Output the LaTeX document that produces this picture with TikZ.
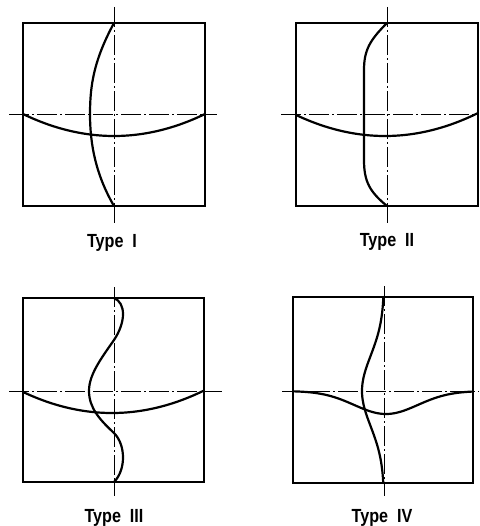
\documentclass[tikz,border=0pt]{standalone}
\usepackage{fontspec}
\setmainfont{Liberation Sans}
\usepackage{tikz}
\newcommand{\typename}[1]{\scalebox{0.85}[1]{Type\ \ #1}}

\begin{document}
\begin{tikzpicture}[x=1pt,y=-1pt,
  frame/.style={line width=1.8pt},
  axis/.style={line width=0.8pt, dash pattern=on 20pt off 3pt on 2pt off 3pt},
  mode/.style={line width=2.2pt, line cap=round},
  lbl/.style={anchor=base, font=\fontsize{19}{19}\selectfont\bfseries}]
\useasboundingbox (0,0) rectangle (479,526);
% Type I
\draw[frame] (23,23) rectangle (205,206);
\draw[axis] (9,114) -- (217,114);
\draw[axis] (114,7) -- (114,223);
\draw[mode] (114,23) .. controls (94,60) and (90,85) .. (90,114) .. controls (90,145) and (96,175) .. (114,206);
\draw[mode] plot[domain=23:205,samples=60] (\x,{114+22*(1-((\x-114)/91)*((\x-114)/91))});
\node[lbl] (typeI) at (112,247) {\typename{I}};
% Type II
\draw[frame] (296,23) rectangle (478,206);
\draw[axis] (281,114) -- (479,114);
\draw[axis] (387,7) -- (387,223);
\draw[mode] (387,23) .. controls (370,40) and (364,50) .. (364,70) -- (364,160) .. controls (364,182) and (370,192) .. (387,206);
\draw[mode] plot[domain=296:478,samples=60] (\x,{114+22*(1-((\x-385)/91)*((\x-385)/91))});
\node[lbl] (typeII) at (387,246) {\typename{II}};
% Type III
\draw[frame] (23,298) rectangle (204,482);
\draw[axis] (9,391) -- (222,391);
\draw[axis] (114,287) -- (114,496);
\draw[mode] (114,298) .. controls (126,303) and (126,322) .. (114,340) .. controls (100,360) and (89,375) .. (89,391) .. controls (89,408) and (100,420) .. (114,433) .. controls (126,445) and (126,470) .. (114,482);
\draw[mode] plot[domain=23:204,samples=60] (\x,{391+22*(1-((\x-112)/91)*((\x-112)/91))});
\node[lbl] (typeIII) at (114,522) {\typename{III}};
% Type IV
\draw[frame] (293,297) rectangle (473,483);
\draw[axis] (282,391) -- (479,391);
\draw[axis] (384,286) -- (384,496);
\draw[mode] plot[domain=297:483,samples=70] ({384-22*exp(-((\x-391)/50)*((\x-391)/50))},\x);
\draw[mode] plot[domain=293:473,samples=70] (\x,{391+23*exp(-((\x-386)/45)*((\x-386)/45))});
\node[lbl] (typeIV) at (382,522) {\typename{IV}};
\end{tikzpicture}
\end{document}
